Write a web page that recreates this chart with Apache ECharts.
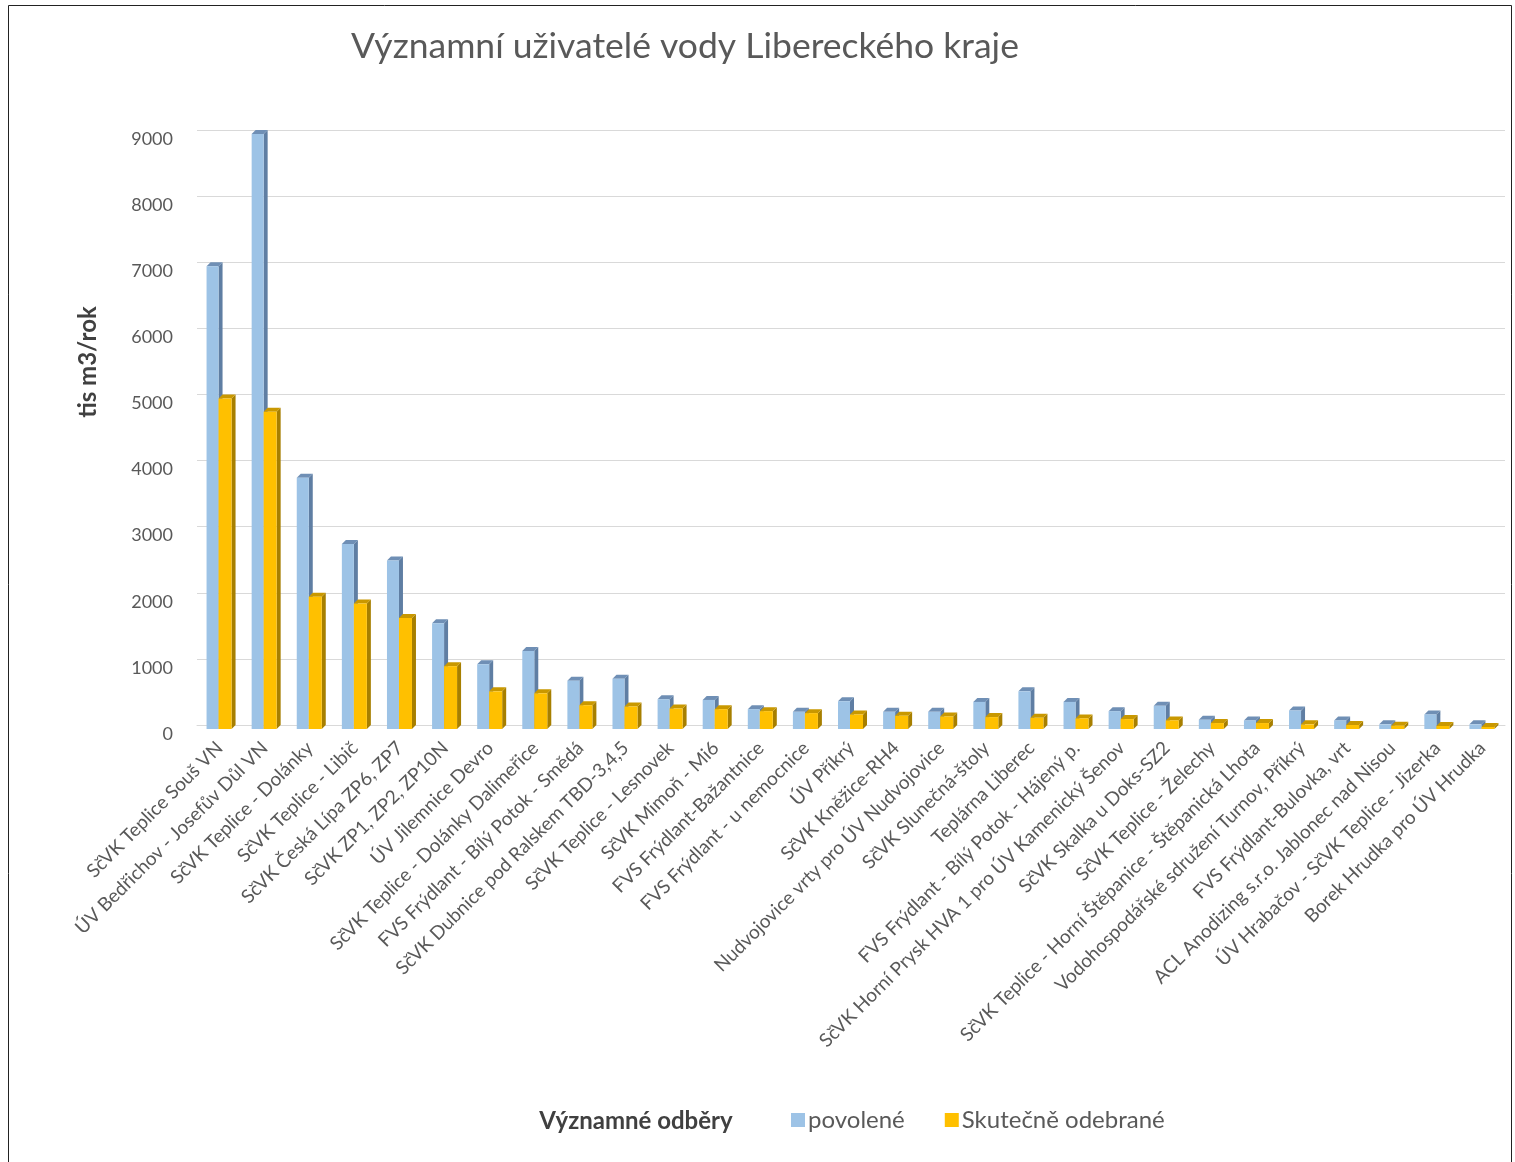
<!DOCTYPE html>
<html>
<head>
<meta charset="utf-8">
<script src="https://cdn.jsdelivr.net/npm/echarts@6/dist/echarts.min.js"></script>
<style>
html,body{margin:0;padding:0;background:#fff;}
#chart{width:1515px;height:1162px;}
</style>
</head>
<body>
<div id="chart"></div>
<script>
var categories = [
  "SčVK Teplice Souš VN",
  "ÚV Bedřichov - Josefův Důl VN",
  "SčVK Teplice - Dolánky",
  "SčVK Teplice - Libič",
  "SčVK Česká Lípa ZP6, ZP7",
  "SčVK ZP1, ZP2, ZP10N",
  "ÚV Jilemnice Devro",
  "SčVK Teplice - Dolánky Dalimeřice",
  "FVS Frýdlant - Bílý Potok - Smědá",
  "SčVK Dubnice pod Ralskem TBD-3,4,5",
  "SčVK Teplice - Lesnovek",
  "SčVK Mimoň - Mi6",
  "FVS Frýdlant-Bažantnice",
  "FVS Frýdlant - u nemocnice",
  "ÚV Příkrý",
  "SčVK Kněžice-RH4",
  "Nudvojovice vrty pro ÚV Nudvojovice",
  "SčVK Slunečná-štoly",
  "Teplárna Liberec",
  "FVS Frýdlant - Bílý Potok - Hájený p.",
  "SčVK Horní Prysk HVA 1 pro ÚV Kamenický Šenov",
  "SčVK Skalka u Doks-SZ2",
  "SčVK Teplice - Želechy",
  "SčVK Teplice - Horní Štěpanice - Štěpanická Lhota",
  "Vodohospodářské sdružení Turnov, Příkrý",
  "FVS Frýdlant-Bulovka, vrt",
  "ACL Anodizing s.r.o. Jablonec nad Nisou",
  "ÚV Hrabačov - SčVK Teplice - Jizerka",
  "Borek Hrudka pro ÚV Hrudka"
];
var povolene = [7000, 9000, 3800, 2800, 2550, 1600, 980, 1180, 730, 760, 450, 440, 300, 260, 420, 260, 260, 410, 570, 410, 270, 350, 140, 130, 280, 130, 70, 220, 70];
var odebrane = [5000, 4800, 2000, 1900, 1680, 950, 570, 540, 360, 340, 310, 300, 270, 240, 220, 200, 190, 180, 170, 160, 150, 130, 90, 90, 70, 60, 50, 45, 30];
var seriesNames = ["povolené", "Skutečně odebrané"];
var yTicks = {min: 0, max: 9000, interval: 1000};

var chart = echarts.init(document.getElementById('chart'));

function bar3d(frontL, frontR, cols) {
  return function (params, api) {
    var idx = api.value(0), v = api.value(1);
    var top = api.coord([idx, v]);
    var base = api.coord([idx, 0]);
    var c = top[0];
    var d = 4;
    var x0 = c + frontL, x1 = c + frontR;
    var yt = top[1], yb = base[1];
    return {
      type: 'group',
      children: [
        { type: 'polygon', shape: { points: [[x1, yt + d], [x1 + d, yt], [x1 + d, yb], [x1, yb + d]] }, style: { fill: cols[1] } },
        { type: 'polygon', shape: { points: [[x0, yt + d], [x1, yt + d], [x1 + d, yt], [x0 + d, yt]] }, style: { fill: cols[2] } },
        { type: 'rect', shape: { x: x0, y: yt + d, width: x1 - x0, height: yb - yt }, style: { fill: cols[0] } }
      ]
    };
  };
}

function toData(arr) { return arr.map(function (v, i) { return [i, v]; }); }

var option = {
  backgroundColor: '#ffffff',
  animation: false,
  title: {
    text: 'Významní uživatelé vody Libereckého kraje',
    left: 680, top: 24, textAlign: 'center',
    textStyle: { fontFamily: 'Lato', fontSize: 35.5, fontWeight: 'normal', color: '#595959' }
  },
  legend: {
    left: 786, top: 1103, itemWidth: 14, itemHeight: 14, itemGap: 40, icon: 'rect',
    textStyle: { fontFamily: 'Lato', fontSize: 24, color: '#595959', padding: [0, 0, 0, -2] },
    data: seriesNames
  },
  grid: { left: 197, right: 10, top: 130, bottom: 437 },
  xAxis: {
    type: 'category',
    data: categories,
    axisLine: { show: true, lineStyle: { color: '#d9d9d9' } },
    axisTick: { show: false },
    axisLabel: { interval: 0, rotate: 45, margin: 20, fontFamily: 'Lato', fontSize: 19, color: '#595959' }
  },
  yAxis: {
    type: 'value',
    min: yTicks.min, max: yTicks.max, interval: yTicks.interval,
    axisLine: { show: false },
    axisTick: { show: false },
    splitLine: { lineStyle: { color: '#d9d9d9', width: 1 } },
    axisLabel: { margin: 24, fontFamily: 'Lato', fontSize: 18, color: '#595959', verticalAlign: 'top',
      formatter: function (v) { return String(v); } }
  },
  graphic: [
    { type: 'rect', shape: { x: 8.5, y: 5.5, width: 1503, height: 1180 }, style: { fill: 'none', stroke: '#222', lineWidth: 1 }, silent: true },
    { type: 'text', x: 88, y: 362, rotation: Math.PI / 2,
      style: { text: 'tis m3/rok', fontFamily: 'Lato', fontSize: 24, fontWeight: 'bold', fill: '#404040', align: 'center', verticalAlign: 'middle' } },
    { type: 'text', x: 636, y: 1121,
      style: { text: 'Významné odběry', fontFamily: 'Lato', fontSize: 24, fontWeight: 'bold', fill: '#404040', align: 'center', verticalAlign: 'middle' } }
  ],
  series: [
    {
      name: seriesNames[0], type: 'custom',
      itemStyle: { color: '#9dc3e6' },
      renderItem: bar3d(-13, -1, ['#9dc3e6', '#5f7ea3', '#6f8fb5']),
      encode: { x: 0, y: 1 },
      data: toData(povolene), z: 2
    },
    {
      name: seriesNames[1], type: 'custom',
      itemStyle: { color: '#ffc000' },
      renderItem: bar3d(-1, 12, ['#ffc000', '#a77f00', '#c99800']),
      encode: { x: 0, y: 1 },
      data: toData(odebrane), z: 3
    }
  ]
};
chart.setOption(option);
</script>
</body>
</html>
